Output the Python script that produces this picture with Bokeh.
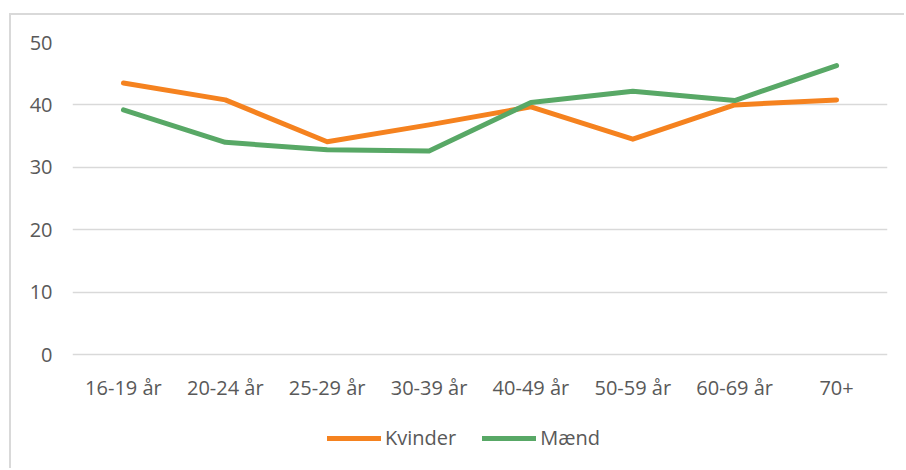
from bokeh.plotting import figure
from bokeh.models import FactorRange, Range1d, Legend, LegendItem, FixedTicker
from bokeh.core.properties import value
from bokeh.embed import file_html
from bokeh.resources import INLINE

categories = ["16-19 år", "20-24 år", "25-29 år", "30-39 år", "40-49 år", "50-59 år", "60-69 år", "70+"]
kvinder = [43.5, 40.8, 34.1, 36.8, 39.7, 34.5, 40.0, 40.8]
maend = [39.2, 34.0, 32.8, 32.6, 40.4, 42.2, 40.7, 46.3]
y_ticks = [0, 10, 20, 30, 40, 50]

FONT = "Open Sans"
TXT = "#595959"
ORANGE = "#F5821F"
GREEN = "#58A866"

# layout (pixels): value axis 0..50 spans 312 px; frame continues below zero
Y_MAX = 50
PX_PER_UNIT = 312 / Y_MAX
BELOW_PX = 114
LABEL_OFFSET_PX = 33
y_min_view = -BELOW_PX / PX_PER_UNIT
label_y = -LABEL_OFFSET_PX / PX_PER_UNIT

p = figure(
    x_range=FactorRange(*categories, range_padding=0),
    y_range=Range1d(y_min_view, Y_MAX),
    width=904, height=468,
    output_backend="svg", toolbar_location=None,
    min_border_left=72, min_border_right=17, min_border_top=42, min_border_bottom=0,
)
p.styles = {
    "background": "linear-gradient(#d9d9d9, #d9d9d9) 9px 13px / 2px 100% no-repeat, "
                  "linear-gradient(#d9d9d9, #d9d9d9) 9px 13px / 100% 2px no-repeat"
}
p.outline_line_color = None
p.background_fill_color = "white"
p.border_fill_color = "white"
p.border_fill_alpha = 0

r1 = p.line(categories, kvinder, line_color=ORANGE, line_width=5, line_cap="round", line_join="round")
r2 = p.line(categories, maend, line_color=GREEN, line_width=5, line_cap="round", line_join="round")

p.text(x=categories, y=[label_y] * len(categories), text=categories,
       text_font=value(FONT), text_font_size="20px", text_color=TXT,
       text_align="center", text_baseline="middle")

p.xaxis.visible = False
p.xgrid.grid_line_color = None
p.ygrid.grid_line_color = "#d9d9d9"
p.ygrid.grid_line_width = 1.5
p.yaxis.ticker = FixedTicker(ticks=y_ticks)

ax = p.yaxis[0]
ax.axis_line_color = None
ax.major_tick_line_color = None
ax.minor_tick_line_color = None
ax.major_tick_out = 0
ax.major_tick_in = 0
ax.major_label_text_font = FONT
ax.major_label_text_font_size = "20px"
ax.major_label_text_color = TXT
ax.major_label_standoff = 20

legend = Legend(
    items=[LegendItem(label="Kvinder", renderers=[r1]), LegendItem(label="Mænd", renderers=[r2])],
    orientation="horizontal", location=(255, 17),
    label_text_font=FONT, label_text_font_size="20px", label_text_color=TXT,
    glyph_width=54, glyph_height=20, label_standoff=4, spacing=26,
    border_line_color=None, background_fill_alpha=0, padding=5, margin=0,
)
p.add_layout(legend, "center")

open("out.html", "w").write(file_html(p, INLINE))
